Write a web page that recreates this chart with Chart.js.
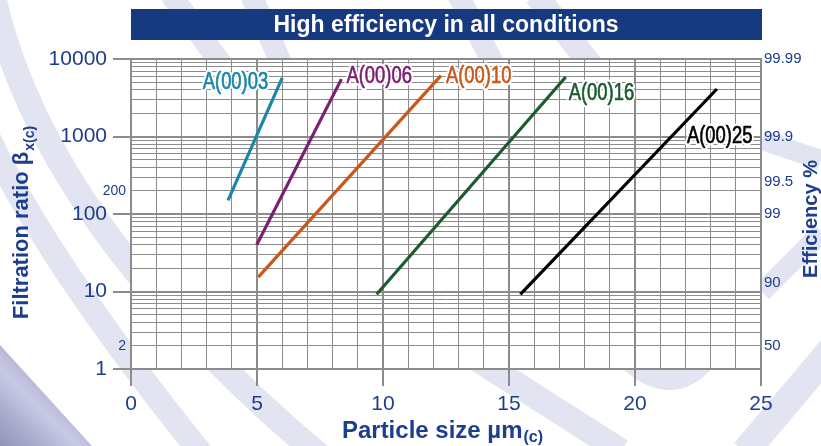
<!DOCTYPE html>
<html><head><meta charset="utf-8">
<script src="https://cdn.jsdelivr.net/npm/chart.js@4.4.1/dist/chart.umd.min.js"></script>
<style>html,body{margin:0;padding:0;background:#fff}#wrap{width:821px;height:446px;position:relative}</style>
</head><body><div id="wrap"><canvas id="c" width="821" height="446"></canvas></div>
<script>
// ---- data ----
const chartTitle = 'High efficiency in all conditions';
const xTitle = 'Particle size µm';
const xTitleSub = '(c)';
const yTitle = 'Filtration ratio β';
const yTitleSub = 'x(c)';
const y2Title = 'Efficiency %';
const filterNames = ['A(00)03', 'A(00)06', 'A(00)10', 'A(00)16', 'A(00)25'];
const sizeStart = [3.85, 4.99, 5.05, 9.75, 15.45];
const sizeEnd   = [6.0, 8.35, 12.3, 17.25, 23.25];
const betaStart = [150, 40, 15.3, 9.2, 9.2];
const betaEnd   = [5700, 5500, 6100, 5850, 4100];
const xLabeled = [0, 5, 10, 15, 20, 25];
const betaDecades = [1, 10, 100, 1000, 10000];
const betaSmallLabels = [2, 200];
const effTickBeta = [2, 10, 100, 200, 1000, 10000];
const effTickLabels = ['50', '90', '99', '99.5', '99.9', '99.99'];

// ---- styles ----
const lineColors = ['#1a86a8', '#7b1f6f', '#c8581c', '#1c5a2f', '#000000'];
const labelPlace = [[-14, 5, 'right'], [5, -2, 'left'], [5, 1, 'left'], [3, 17, 'left'], [-30, 48, 'left']];
const BLUE = '#1d3e8c';
const GRID = '#8c8c8c';
const FONT = "'Liberation Sans', Arial, Helvetica, sans-serif";

const betaGrid = [];
betaDecades.forEach(d => { if (d === 10000) { betaGrid.push(d); } else { for (let k = 1; k <= 9; k++) betaGrid.push(d * k); } });
const isDecade = v => betaDecades.includes(v);

const datasets = filterNames.map((n, i) => ({
  label: n,
  data: [{x: sizeStart[i], y: betaStart[i]}, {x: sizeEnd[i], y: betaEnd[i]}],
  borderColor: lineColors[i],
  backgroundColor: lineColors[i],
  borderWidth: 3.2,
  pointRadius: 0,
  fill: false,
  yAxisID: 'y',
  borderCapStyle: 'butt'
}));

const decor = {
  id: 'decor',
  afterLayout(chart) {
    const s = chart.scales.ySmall;
    if (s) { s.left = s.right - 40; }
  },
  beforeDraw(chart) {
    const ctx = chart.ctx, a = chart.chartArea;
    ctx.save();
    ctx.fillStyle = '#fff';
    ctx.fillRect(0, 0, chart.width, chart.height);
    ctx.strokeStyle = '#e3e4f2';
    ctx.lineCap = 'butt';
    const band = (w, p) => {
      ctx.lineWidth = w; ctx.beginPath(); ctx.moveTo(p[0], p[1]);
      if (p.length === 4) ctx.lineTo(p[2], p[3]); else ctx.quadraticCurveTo(p[2], p[3], p[4], p[5]);
      ctx.stroke();
    };
    band(25, [-8, -10, 40, 220, 320, 456]);
    band(24, [-15, 130, 45, 260, 205, 458]);
    band(22, [171, -5, 222, 65]);
    band(22, [251, -5, 282, 65]);
    band(22, [458, -5, 494, 65]);
    band(24, [536, -5, 591, 65]);
    band(25, [472, 356, 621, 451]);
    band(20, [628, 360, 672, 400, 706, 360]);
    band(28, [835, 345, 745, 452]);
    band(20, [762, 140, 821, 160]);
    band(20, [822, 232, 762, 292]);
    const g = ctx.createLinearGradient(0, 446, 70, 375);
    g.addColorStop(0, '#8f91b8'); g.addColorStop(0.55, '#c7c9e5'); g.addColorStop(1, '#9a9cc0');
    ctx.fillStyle = g;
    ctx.beginPath(); ctx.moveTo(0, 345); ctx.lineTo(92, 446); ctx.lineTo(0, 446); ctx.closePath(); ctx.fill();
    ctx.fillStyle = '#fff';
    ctx.fillRect(a.left, a.top, a.right - a.left, a.bottom - a.top);
    ctx.fillStyle = '#17397f';
    ctx.fillRect(131, 9, 631, 31);
    ctx.fillStyle = '#fff';
    ctx.font = 'bold 23px ' + FONT;
    ctx.textAlign = 'center'; ctx.textBaseline = 'middle';
    ctx.fillText(chartTitle, 446, 25.5);
    ctx.restore();
  },
  afterDatasetsDraw(chart) {
    const ctx = chart.ctx;
    filterNames.forEach((n, i) => {
      const p = chart.getDatasetMeta(i).data[1];
      const [dx, dy, al] = labelPlace[i];
      ctx.save();
      ctx.translate(p.x + dx, p.y + dy);
      ctx.scale(0.8, 1);
      ctx.font = '23px ' + FONT;
      ctx.textAlign = al; ctx.textBaseline = 'middle';
      ctx.lineJoin = 'round';
      ctx.lineWidth = 5; ctx.strokeStyle = '#fff';
      ctx.strokeText(n, 0, 0);
      ctx.fillStyle = lineColors[i];
      ctx.fillText(n, 0, 0);
      ctx.lineWidth = 0.7; ctx.strokeStyle = lineColors[i];
      ctx.strokeText(n, 0, 0);
      ctx.restore();
    });
  },
  afterDraw(chart) {
    const ctx = chart.ctx;
    ctx.save();
    ctx.fillStyle = BLUE;
    ctx.textBaseline = 'alphabetic';
    ctx.textAlign = 'left';
    ctx.font = 'bold 24px ' + FONT;
    let w1 = ctx.measureText(xTitle).width;
    ctx.font = 'bold 16px ' + FONT;
    let w2 = ctx.measureText(xTitleSub).width;
    let sx = 442 - (w1 + w2) / 2;
    ctx.font = 'bold 24px ' + FONT;
    ctx.fillText(xTitle, sx, 438);
    ctx.font = 'bold 16px ' + FONT;
    ctx.fillText(xTitleSub, sx + w1 + 1, 442);
    ctx.save();
    ctx.translate(28, 223);
    ctx.rotate(-Math.PI / 2);
    ctx.font = 'bold 22px ' + FONT;
    w1 = ctx.measureText(yTitle).width;
    ctx.font = 'bold 14px ' + FONT;
    w2 = ctx.measureText(yTitleSub).width;
    sx = -(w1 + w2) / 2;
    ctx.font = 'bold 22px ' + FONT;
    ctx.fillText(yTitle, sx, 0);
    ctx.font = 'bold 14px ' + FONT;
    ctx.fillText(yTitleSub, sx + w1 + 1, 6);
    ctx.restore();
    ctx.save();
    ctx.translate(817, 219);
    ctx.rotate(-Math.PI / 2);
    ctx.font = 'bold 20px ' + FONT;
    ctx.textAlign = 'center';
    ctx.fillText(y2Title, 0, 0);
    ctx.restore();
    ctx.restore();
  }
};

new Chart(document.getElementById('c'), {
  type: 'line',
  data: { datasets },
  plugins: [decor],
  options: {
    responsive: false,
    devicePixelRatio: 1,
    animation: false,
    layout: { padding: { top: 59, right: 0, bottom: 0, left: 0 } },
    plugins: { legend: { display: false }, tooltip: { enabled: false }, title: { display: false } },
    scales: {
      x: {
        type: 'linear', min: 0, max: 25,
        afterFit: s => { s.height = 77; },
        ticks: {
          stepSize: 1, autoSkip: false, maxRotation: 0, padding: 6,
          color: BLUE, font: { family: FONT, size: 21 },
          callback: v => xLabeled.includes(v) ? String(v) : ''
        },
        grid: {
          color: GRID,
          lineWidth: c => (c.tick && c.tick.value % 5 === 0) ? 2 : 1,
          tickLength: 17,
          tickColor: c => (c.tick && c.tick.value % 5 === 0) ? GRID : 'rgba(0,0,0,0)'
        },
        border: { display: true, color: GRID, width: 2 }
      },
      y: {
        type: 'logarithmic', position: 'left', min: 1, max: 10000, weight: 1,
        afterFit: s => { s.width = 131; },
        afterBuildTicks: s => { s.ticks = betaGrid.map(v => ({ value: v })); },
        ticks: {
          autoSkip: false, padding: 6, color: BLUE,
          font: { family: FONT, size: 21 },
          callback: v => isDecade(v) ? String(v) : ''
        },
        grid: {
          color: GRID,
          lineWidth: c => (c.tick && isDecade(c.tick.value)) ? 2 : 1,
          tickLength: 18,
          tickColor: c => (c.tick && isDecade(c.tick.value)) ? GRID : 'rgba(0,0,0,0)'
        },
        border: { display: true, color: GRID, width: 2 }
      },
      ySmall: {
        type: 'logarithmic', position: 'left', min: 1, max: 10000, weight: 0,
        afterFit: s => { s.width = 0; },
        afterBuildTicks: s => { s.ticks = betaSmallLabels.map(v => ({ value: v })); },
        ticks: {
          autoSkip: false, padding: 5, color: BLUE,
          font: { family: FONT, size: 14 },
          callback: v => String(v)
        },
        grid: { display: false, drawTicks: false },
        border: { display: false }
      },
      yR: {
        type: 'logarithmic', position: 'right', min: 1, max: 10000,
        afterFit: s => { s.width = 60; },
        afterBuildTicks: s => { s.ticks = effTickBeta.map(v => ({ value: v })); },
        ticks: {
          autoSkip: false, padding: 3, color: BLUE,
          font: { family: FONT, size: 15 },
          callback: v => {
            const lab = effTickLabels[effTickBeta.indexOf(v)];
            return (lab === '99.5' || lab === '90') ? [lab, ''] : lab;
          }
        },
        grid: { display: false, drawTicks: false },
        border: { display: true, color: GRID, width: 2 }
      }
    }
  }
});
</script></body></html>
